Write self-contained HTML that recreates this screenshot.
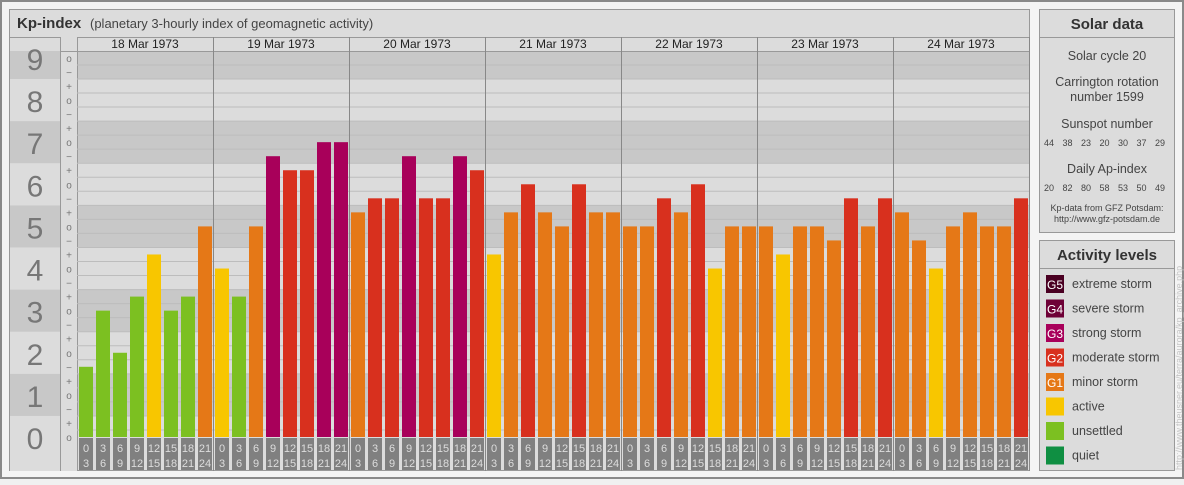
<!DOCTYPE html>
<html><head><meta charset="utf-8"><style>
body{margin:0;width:1184px;height:480px;overflow:hidden;background:#f0f0f0;font-family:"Liberation Sans",sans-serif}
</style></head><body>
<svg width="1184" height="480" xmlns="http://www.w3.org/2000/svg" font-family="Liberation Sans, sans-serif">
<rect x="1" y="1" width="1182" height="477" fill="#f4f4f4" stroke="#8a8a8a" stroke-width="2"/>
<rect x="9.5" y="9.5" width="1020" height="461" fill="#dcdcdc" stroke="#999"/>
<line x1="9" y1="37.5" x2="1030" y2="37.5" stroke="#999"/>
<text x="17" y="28" font-size="15" font-weight="bold" fill="#333">Kp-index</text>
<text x="90" y="28" font-size="13" fill="#444">(planetary 3-hourly index of geomagnetic activity)</text>
<g id="plot"></g>
<rect x="1039.5" y="9.5" width="135" height="223" fill="#dcdcdc" stroke="#999"/>
<line x1="1039" y1="37.5" x2="1175" y2="37.5" stroke="#999"/>
<text x="1107" y="29" font-size="15" font-weight="bold" fill="#333" text-anchor="middle">Solar data</text>
<g font-size="12.5" fill="#444" text-anchor="middle">
<text x="1107" y="60">Solar cycle 20</text>
<text x="1107" y="86">Carrington rotation</text>
<text x="1107" y="101">number 1599</text>
<text x="1107" y="128">Sunspot number</text>
<text x="1107" y="173">Daily Ap-index</text>
</g>
<g font-size="9" fill="#444" text-anchor="middle" id="solarnums"></g>
<text x="1107" y="211" font-size="9" fill="#444" text-anchor="middle">Kp-data from GFZ Potsdam:</text>
<text x="1107" y="222" font-size="9" fill="#444" text-anchor="middle">http://www.gfz-potsdam.de</text>
<rect x="1039.5" y="240.5" width="135" height="230" fill="#dcdcdc" stroke="#999"/>
<line x1="1039" y1="268.5" x2="1175" y2="268.5" stroke="#999"/>
<text x="1107" y="260" font-size="15" font-weight="bold" fill="#333" text-anchor="middle">Activity levels</text>
<g id="legend"></g>
<text transform="translate(1182,470) rotate(-90)" font-size="9" fill="#c4c4c4">http://www.theusner.eu/terra/aurora/kp_archive.php</text>
</svg>
<script>
const days=["18 Mar 1973","19 Mar 1973","20 Mar 1973","21 Mar 1973","22 Mar 1973","23 Mar 1973","24 Mar 1973"];
// Kp values in thirds (e.g. 5 = 2-, 6 = 2o, 7 = 2+)
const kp=[5,9,6,10,13,9,10,15, 12,10,15,20,19,19,21,21, 16,17,17,20,17,17,20,19, 13,16,18,16,15,18,16,16, 15,15,17,16,18,12,15,15, 15,13,15,15,14,17,15,17, 16,14,12,15,16,15,15,17];
const sunspots=[44,38,23,20,30,37,29];
const apIndex=[20,82,80,58,53,50,49];
const hourLabels=["0","3","6","9","12","15","18","21","24"];
const NS="http://www.w3.org/2000/svg";
const g=document.getElementById('plot');
const X0=77,X1=1029,Y0=437,U=14.04,TOP=51;
const slot=(X1-X0)/kp.length;
const y=v=>Y0-v*U;
function mk(t,a,p){const e=document.createElementNS(NS,t);for(const k in a)e.setAttribute(k,a[k]);(p||g).appendChild(e);return e;}
// bands
for(let k=0;k<=9;k++){
 const t=Math.max(TOP,y(3*k+1.5)),b=k==0?471:y(3*k-1.5);
 const col=k%2?"#c8c8c8":"#dcdcdc";
 const r=mk('rect',{x:X0,y:t,width:X1-X0,height:Math.min(b,Y0)-t,fill:col});
 
 
 const r2=mk('rect',{x:10,y:t,width:50,height:b-t,fill:col});
 
 
 const tx=mk('text',{x:35,y:y(3*k)+12,'font-size':30,fill:'#777','text-anchor':'middle'});
 tx.textContent=k;
 
 
}
mk('rect',{x:60,y:37,width:17,height:434,fill:'#dcdcdc'});
mk('line',{x1:60.5,y1:37,x2:60.5,y2:471,stroke:'#999'});
mk('line',{x1:77.5,y1:37,x2:77.5,y2:471,stroke:'#999'});
// grid lines and sign labels
const signs=["−","o","+"];
for(let v=0;v<=27;v++){
 if(v<27){const gl=mk('line',{x1:X0,x2:X1,y1:y(v+0.5),y2:y(v+0.5),stroke:'#bdbdbd','stroke-width':1});}
 const s=mk('text',{x:69,y:y(v)+4,'font-size':10,fill:'#777','text-anchor':'middle'});
 s.textContent=signs[(v+1)%3];
 
 
}
mk('line',{x1:60,x2:X1,y1:51.5,y2:51.5,stroke:'#999'});
// day headers
days.forEach((d,i)=>{
 const x=X0+i*8*slot;
 mk('line',{x1:x+8*slot+0.5,x2:x+8*slot+0.5,y1:37,y2:471,stroke:'#888'});
 const t=mk('text',{x:x+4*slot,y:48,'font-size':12,fill:'#222','text-anchor':'middle'});
 t.textContent=d;
 
 
});
function colorFor(v){if(v>=26)return"#4a0022";if(v>=23)return"#6e0036";if(v>=20)return"#a8005a";if(v>=17)return"#d8301e";if(v>=14)return"#e57817";if(v>=11)return"#f8c600";if(v>=5)return"#7cc021";return"#0f8f42";}
kp.forEach((v,i)=>{
 const x=X0+i*slot+2;
 const b=mk('rect',{x:x,y:y(v),width:slot-3,height:Y0-y(v),fill:colorFor(v)});
 
 
 const h=i%8;
 const lb=mk('rect',{x:x,y:438,width:slot-3,height:32,fill:'#808080'});
 
 
 const t1=mk('text',{x:x+(slot-3)/2,y:452,'font-size':11,fill:'#ddd','text-anchor':'middle'});t1.textContent=hourLabels[h];
 const t2=mk('text',{x:x+(slot-3)/2,y:467,'font-size':11,fill:'#ddd','text-anchor':'middle'});t2.textContent=hourLabels[h+1];
});
const sn=document.getElementById('solarnums');
sunspots.forEach((v,i)=>{const t=mk('text',{x:1049+i*18.5,y:146},sn);t.textContent=v;
 
 });
apIndex.forEach((v,i)=>{const t=mk('text',{x:1049+i*18.5,y:191},sn);t.textContent=v;
 
 });
const leg=[["G5","extreme storm","#4a0022"],["G4","severe storm","#6e0036"],["G3","strong storm","#a8005a"],["G2","moderate storm","#d8301e"],["G1","minor storm","#e57817"],["","active","#f8c600"],["","unsettled","#7cc021"],["","quiet","#0f8f42"]];
const lg=document.getElementById('legend');
leg.forEach((l,i)=>{const yy=275+i*24.5;
 const r=mk('rect',{x:1046,y:yy,width:18,height:18,fill:l[2]},lg);
 
 
 if(l[0]){const t=mk('text',{x:1055,y:yy+14,'font-size':12,fill:'#fff','text-anchor':'middle'},lg);t.textContent=l[0];}
 const t=mk('text',{x:1072,y:yy+13,'font-size':12.5,fill:'#444'},lg);t.textContent=l[1];
 
 
});
</script>
</body></html>
